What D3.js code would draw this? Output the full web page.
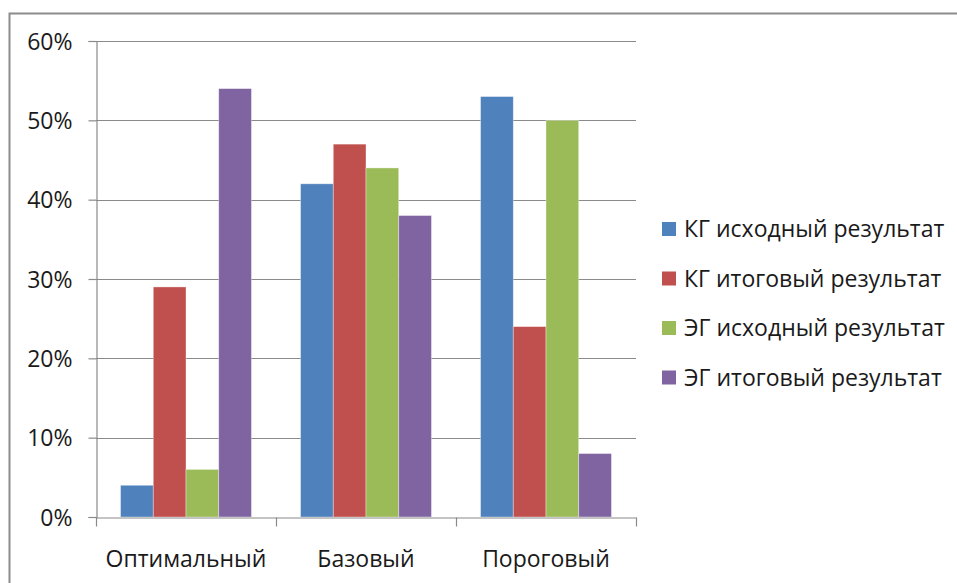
<!DOCTYPE html>
<html>
<head>
<meta charset="utf-8">
<script src="https://cdn.jsdelivr.net/npm/d3@7"></script>
<style>
  html, body { margin: 0; padding: 0; background: #fff; }
  svg { display: block; }
  text { font-family: "Open Sans", "Noto Sans", sans-serif; fill: #1a1a1a; }
</style>
</head>
<body>
<svg id="chart" width="957" height="583"></svg>
<script>
// Categories and series
const categories = ["Оптимальный", "Базовый", "Пороговый"];
const seriesNames = [
  "КГ исходный результат",
  "КГ итоговый результат",
  "ЭГ исходный результат",
  "ЭГ итоговый результат"
];
// Percent values per series, in category order
const kgStart = [4, 42, 53];
const kgFinal = [29, 47, 24];
const egStart = [6, 44, 50];
const egFinal = [54, 38, 8];
const yTicks = [0, 10, 20, 30, 40, 50, 60];
const colors = ["#4F81BD", "#C0504D", "#9BBB59", "#8064A2"];

const seriesValues = [kgStart, kgFinal, egStart, egFinal];

const svg = d3.select("#chart");
const W = 957, H = 583;
const plot = { left: 96, right: 636, top: 41, bottom: 517 };

// Outer frame of the chart area
svg.append("rect")
  .attr("x", 9.5).attr("y", 13.5)
  .attr("width", W + 20).attr("height", H + 20)
  .attr("fill", "none")
  .attr("stroke", "#8c8c8c")
  .attr("stroke-width", 2);

const y = d3.scaleLinear().domain([0, 60]).range([plot.bottom, plot.top]);
const x0 = d3.scaleBand().domain(categories).range([plot.left, plot.right])
  .paddingInner(0).paddingOuter(0);
// 150% gap width between groups: 4 bars + 1.5 bar widths per category
const x1 = d3.scaleBand().domain(d3.range(seriesNames.length))
  .range([0, x0.bandwidth()])
  .paddingInner(0)
  .paddingOuter(0.75);

// Horizontal gridlines
svg.append("g")
  .selectAll("line")
  .data(yTicks.filter(d => d > 0))
  .join("line")
  .attr("x1", plot.left).attr("x2", plot.right)
  .attr("y1", d => Math.round(y(d)) + 0.5)
  .attr("y2", d => Math.round(y(d)) + 0.5)
  .attr("stroke", "#8a8a8a")
  .attr("stroke-width", 1.2);

// Bars
const groups = svg.append("g")
  .selectAll("g")
  .data(categories)
  .join("g")
  .attr("transform", c => `translate(${x0(c)},0)`);

groups.selectAll("rect")
  .data((c, ci) => seriesValues.map((vals, si) => ({ si, v: vals[ci] })))
  .join("rect")
  .attr("x", d => x1(d.si))
  .attr("y", d => y(d.v))
  .attr("width", x1.bandwidth())
  .attr("height", d => y(0) - y(d.v))
  .attr("fill", d => colors[d.si])
  .attr("stroke", "rgba(255,255,255,0.45)")
  .attr("stroke-width", 0.8);

// Y axis
const yAxis = d3.axisLeft(y)
  .tickValues(yTicks)
  .tickSize(8)
  .tickPadding(16)
  .tickFormat(d => d + "%");

const gy = svg.append("g")
  .attr("transform", `translate(${plot.left + 0.5},0)`)
  .call(yAxis);
gy.select(".domain").attr("stroke", "#8a8a8a").attr("stroke-width", 1.2);
gy.selectAll(".tick line").attr("stroke", "#8a8a8a").attr("stroke-width", 1.2);
gy.selectAll(".tick text")
  .attr("font-size", 23)
  .attr("font-family", "'Open Sans', sans-serif")
  .attr("fill", "#1a1a1a")
  .attr("dy", "0.36em");

// X axis: baseline with boundary ticks between categories
const xBounds = d3.scaleLinear().domain([0, categories.length]).range([plot.left, plot.right]);
const xAxis = d3.axisBottom(xBounds)
  .tickValues(d3.range(categories.length + 1))
  .tickSize(9)
  .tickSizeOuter(0)
  .tickFormat("");
const gx = svg.append("g")
  .attr("transform", `translate(0,${plot.bottom + 0.5})`)
  .call(xAxis);
gx.select(".domain").attr("stroke", "#8a8a8a").attr("stroke-width", 1.2);
gx.selectAll(".tick line").attr("stroke", "#8a8a8a").attr("stroke-width", 1.2);

// Category labels
svg.append("g")
  .selectAll("text")
  .data(categories)
  .join("text")
  .attr("x", c => x0(c) + x0.bandwidth() / 2)
  .attr("y", 567)
  .attr("text-anchor", "middle")
  .attr("font-size", 23)
  .text(c => c);

// Legend
const legend = svg.append("g")
  .selectAll("g")
  .data(seriesNames)
  .join("g")
  .attr("transform", (d, i) => `translate(662,${229 + i * 49.5})`);

legend.append("rect")
  .attr("x", 0).attr("y", -7)
  .attr("width", 14).attr("height", 14)
  .attr("fill", (d, i) => colors[i]);

legend.append("text")
  .attr("x", 22)
  .attr("y", 0)
  .attr("dy", "0.36em")
  .attr("font-size", 23)
  .text(d => d);
</script>
</body>
</html>
